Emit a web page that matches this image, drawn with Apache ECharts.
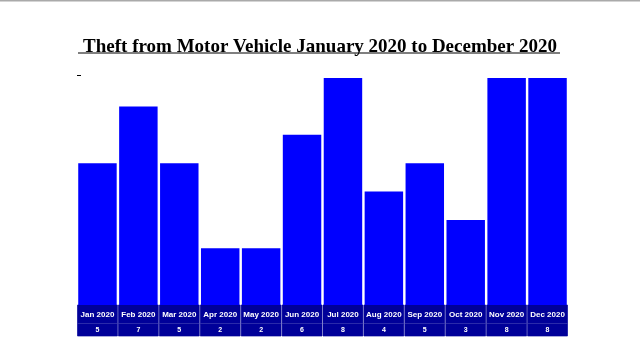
<html>
<head>
<meta charset="UTF-8">
<script src="https://cdn.jsdelivr.net/npm/echarts@6/dist/echarts.min.js"></script>
<style>
    html, body { margin: 0; padding: 0; background: #fff; }
    #chart { width: 640px; height: 354px; }
</style>
</head>
<body>
<div id="chart"></div>
<script>
    // data
    var months = ['Jan 2020', 'Feb 2020', 'Mar 2020', 'Apr 2020', 'May 2020', 'Jun 2020',
        'Jul 2020', 'Aug 2020', 'Sep 2020', 'Oct 2020', 'Nov 2020', 'Dec 2020'];
    var counts = [5, 7, 5, 2, 2, 6, 8, 4, 5, 3, 8, 8];
    var titleText = 'Theft from Motor Vehicle January 2020 to December 2020';

    var chart = echarts.init(document.getElementById('chart'));
    var cellW = (568 - 77) / 12;

    var option = {
        animation: false,
        title: {
            text: titleText,
            left: 'center',
            top: 33,
            textStyle: {
                fontFamily: 'Liberation Serif',
                fontWeight: 'bold',
                fontSize: 19,
                color: '#000'
            }
        },
        graphic: [
            { type: 'rect', shape: { x: 0, y: 0, width: 640, height: 1.5 }, style: { fill: '#aaaaaa' } },
            { type: 'line', shape: { x1: 78, y1: 53, x2: 560, y2: 53 }, style: { stroke: '#000', lineWidth: 1.2 } },
            { type: 'line', shape: { x1: 77, y1: 75.5, x2: 81, y2: 75.5 }, style: { stroke: '#000', lineWidth: 1 } }
        ],
        grid: { left: 77, right: 72, top: 78, bottom: 49 },
        xAxis: [{
            type: 'category',
            data: months,
            position: 'bottom',
            axisLine: { show: false },
            axisTick: { show: false },
            axisLabel: {
                interval: 0,
                margin: 0,
                width: cellW - 1,
                height: 19,
                lineHeight: 19,
                align: 'center',
                backgroundColor: '#000099',
                borderColor: '#5555bb',
                borderWidth: 0.5,
                color: '#fff',
                fontFamily: 'Liberation Sans',
                fontWeight: 'bold',
                fontSize: 8
            }
        }, {
            type: 'category',
            data: counts.map(String),
            position: 'bottom',
            offset: 19,
            axisLine: { show: false },
            axisTick: { show: false },
            axisLabel: {
                interval: 0,
                margin: 0,
                width: cellW - 1,
                height: 12,
                lineHeight: 12,
                align: 'center',
                backgroundColor: '#000099',
                borderColor: '#5555bb',
                borderWidth: 0.5,
                color: '#fff',
                fontFamily: 'Liberation Sans',
                fontWeight: 'bold',
                fontSize: 7
            }
        }],
        yAxis: {
            type: 'value',
            min: 0,
            max: 8,
            show: false
        },
        series: [{
            type: 'bar',
            data: counts,
            barCategoryGap: '6%',
            itemStyle: { color: '#0000ff' }
        }]
    };
    chart.setOption(option);
</script>
</body>
</html>
